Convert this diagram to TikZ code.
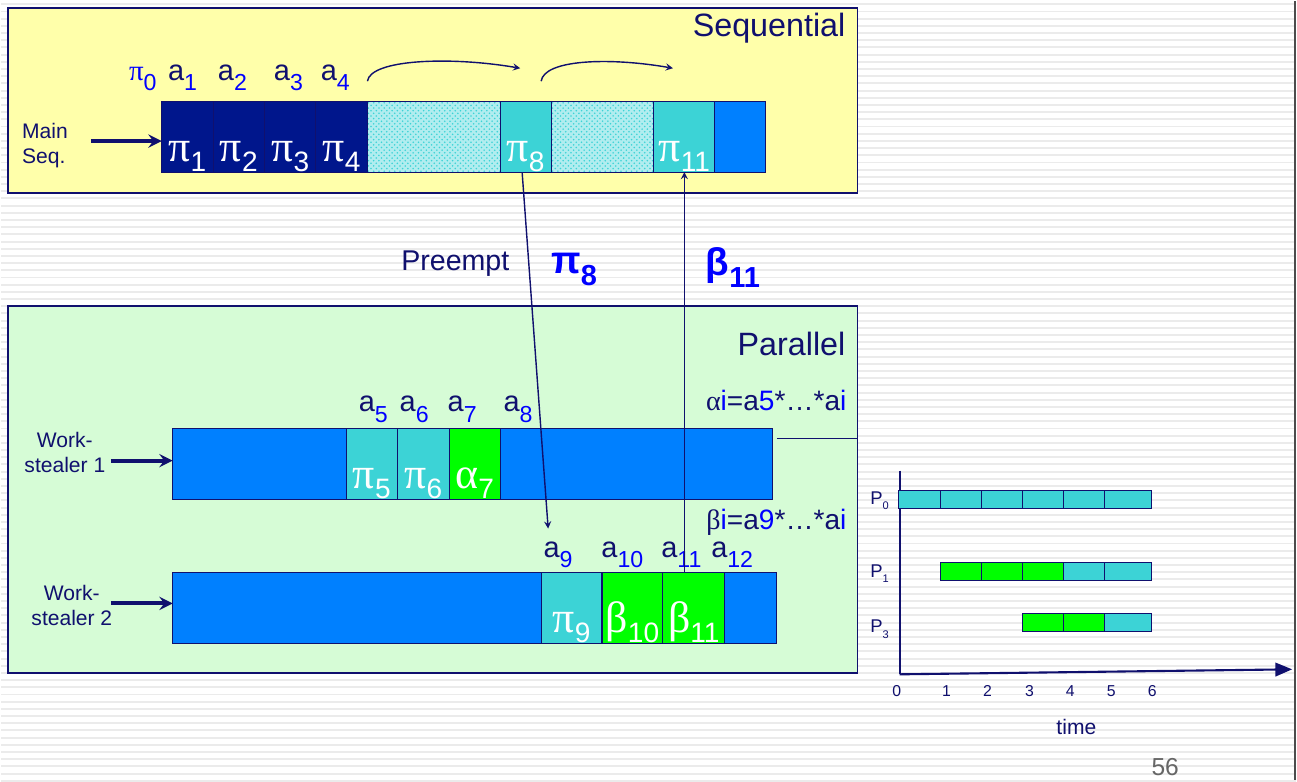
\documentclass[tikz,border=0pt]{standalone}
\usepackage{fontspec}
\setmainfont{Liberation Sans}
\newfontfamily\grk{Liberation Serif}
\usetikzlibrary{arrows,positioning,patterns}
\usepackage{xcolor}

\definecolor{ink}{RGB}{16,16,110}
\definecolor{navycell}{RGB}{0,22,140}
\definecolor{cyancell}{RGB}{60,211,214}
\definecolor{barblue}{RGB}{0,128,255}
\definecolor{greencell}{RGB}{0,255,0}
\definecolor{seqyellow}{RGB}{255,255,170}
\definecolor{pargreen}{RGB}{214,252,214}
\definecolor{labelblue}{RGB}{0,0,255}
\definecolor{stripegray}{RGB}{235,235,235}

% lowered subscript: size ratio, drop (em), text
\makeatletter
\newcommand{\lowsub}[3]{\raisebox{-#2em}{\fontsize{\fpeval{#1*\f@size}}{1}\selectfont #3}}
\makeatother
\newcommand{\gsub}[2]{{\grk #1}\lowsub{0.64}{0.23}{#2}}
\newcommand{\alab}[1]{a\lowsub{0.8}{0.36}{\color{labelblue}#1}}

\begin{document}
\begin{tikzpicture}[
    x=0.02cm, y=-0.02cm,
    stripe/.style={draw=stripegray, line width=1.1pt},
    panel/.style={rectangle, draw=ink, line width=1pt, inner sep=0pt, outer sep=0pt, anchor=north west},
    cellbox/.style={rectangle, draw=ink, line width=0.6pt, inner sep=0pt, outer sep=0pt, minimum height=1.42cm, text=white, font=\fontsize{25}{25}\selectfont, text height=1.18cm, text depth=0.2cm},
    darkcell/.style={cellbox, fill=navycell},
    cyanbox/.style={cellbox, fill=cyancell},
    greenbox/.style={cellbox, fill=greencell},
    bluebox/.style={cellbox, fill=barblue},
    hatchbox/.style={cellbox, preaction={fill=cyancell!40!white}, pattern=crosshatch dots, pattern color=cyancell},
    title/.style={font=\fontsize{18.4}{22}\selectfont, text=ink, inner sep=0pt},
    toplabel/.style={font=\fontsize{16.5}{19}\selectfont, text=ink, anchor=base west, inner sep=0pt},
    side/.style={font=\fontsize{12}{14.2}\selectfont, text=ink, inner sep=0pt},
    formula/.style={font=\fontsize{16}{19}\selectfont, text=ink, anchor=base east, inner sep=0pt},
    boldlabel/.style={font=\fontsize{22}{24}\bfseries\selectfont, text=labelblue, anchor=base, inner sep=0pt},
    feed/.style={->, >=stealth, draw=ink, line width=2.3pt},
    link/.style={->, >=stealth, draw=ink, line width=0.8pt},
    gantt/.style={draw=ink, line width=0.8pt},
    chartlabel/.style={font=\fontsize{9}{10}\selectfont, text=ink, inner sep=0pt}
]

% Background
\fill[white] (0,0) rectangle (1297,780);
\foreach \k in {0,...,108}
  \draw[stripe] (0,3+7.2*\k) -- (1297,3+7.2*\k);
\draw[gray!60!black, line width=1.5pt] (1296,0) -- (1296,780);
\useasboundingbox (0,0) rectangle (1297,780);

% Panels
\node (seqpanel) [panel, fill=seqyellow, minimum width=17.02cm, minimum height=3.7cm] at (7,7) {};
\node (parpanel) [panel, fill=pargreen, minimum width=17.02cm, minimum height=7.36cm] at (7,305) {};
\node (seqtitle) [title, anchor=base east] at (846,35) {Sequential};
\node (partitle) [title, anchor=base east] at (846,355) {Parallel};

% Main sequence
\node (p1) [darkcell, minimum width=1.03cm, anchor=north west] at (161,100) {\gsub{π}{1}};
\node (p2) [darkcell, minimum width=1.03cm, right=0pt of p1] {\gsub{π}{2}};
\node (p3) [darkcell, minimum width=1.03cm, right=0pt of p2] {\gsub{π}{3}};
\node (p4) [darkcell, minimum width=1.03cm, right=0pt of p3] {\gsub{π}{4}};
\node (h1) [hatchbox, minimum width=2.66cm, right=0pt of p4] {};
\node (p8) [cyanbox, minimum width=1.02cm, right=0pt of h1] {\gsub{π}{8}};
\node (h2) [hatchbox, minimum width=2.06cm, right=0pt of p8] {};
\node (p11) [cyanbox, minimum width=1.22cm, right=0pt of h2] {\gsub{π}{11}};
\node (pend) [bluebox, minimum width=1.02cm, right=0pt of p11] {};

\node (l0) [toplabel, text=labelblue] at (128,79) {{\grk π}\lowsub{0.8}{0.36}{0}};
\node (l1) [toplabel] at (167,79) {\alab{1}};
\node (l2) [toplabel] at (217,79) {\alab{2}};
\node (l3) [toplabel] at (273,79) {\alab{3}};
\node (l4) [toplabel] at (320,79) {\alab{4}};

\node (mainseq) [side, align=left] at (44,144) {Main\\Seq.};
\coordinate (seqin) at (90,140);
\draw [feed] (seqin) -- (seqin -| p1.west);

% Jumps along the main sequence
\coordinate (jumpa) at (367,80);
\coordinate (jumpb) at (520,67);
\coordinate (jumpc) at (541,80);
\coordinate (jumpd) at (673,67);
\draw [link] (jumpa) .. controls (370,58) and (450,55) .. (jumpb);
\draw [link] (jumpc) .. controls (544,58) and (610,56) .. (jumpd);

% Work-stealer 1
\node (w1a) [bluebox, minimum width=3.48cm, anchor=north west] at (172,428) {};
\node (p5) [cyanbox, minimum width=1.02cm, right=0pt of w1a] {\gsub{π}{5}};
\node (p6) [cyanbox, minimum width=1.04cm, right=0pt of p5] {\gsub{π}{6}};
\node (a7) [greenbox, minimum width=1.02cm, right=0pt of p6] {\gsub{α}{7}};
\node (w1e) [bluebox, minimum width=5.46cm, right=0pt of a7] {};

\node (l5) [toplabel] at (358,411) {\alab{5}};
\node (l6) [toplabel] at (399,411) {\alab{6}};
\node (l7) [toplabel] at (447,411) {\alab{7}};
\node (l8) [toplabel] at (503,411) {\alab{8}};

\node (ws1) [side, align=center] at (64,452) {Work-\\stealer 1};
\coordinate (ws1in) at (110,460);
\draw [feed] (ws1in) -- (ws1in -| w1a.west);

% Work-stealer 2
\node (w2a) [bluebox, minimum width=7.38cm, anchor=north west] at (172,572) {};
\node (p9) [cyanbox, minimum width=1.22cm, right=0pt of w2a] {\gsub{π}{9}};
\node (b10) [greenbox, minimum width=1.22cm, right=0pt of p9] {\gsub{β}{10}};
\node (b11) [greenbox, minimum width=1.24cm, right=0pt of b10] {\gsub{β}{11}};
\node (w2e) [bluebox, minimum width=1.04cm, right=0pt of b11] {};

\node (l9) [toplabel] at (543,557) {\alab{9}};
\node (l10) [toplabel] at (601,557) {\alab{10}};
\node (l11) [toplabel] at (661,557) {\alab{11}};
\node (l12) [toplabel] at (711,557) {\alab{12}};

\node (ws2) [side, align=center] at (71,605) {Work-\\stealer 2};
\coordinate (ws2in) at (110,603);
\draw [feed] (ws2in) -- (ws2in -| w2a.west);

% Formulas
\node (alphaf) [formula] at (847,410) {{\grk α}{\color{labelblue}i}=a{\color{labelblue}5}*…*a{\color{labelblue}i}};
\node (betaf) [formula] at (847,529) {{\grk β}{\color{labelblue}i}=a{\color{labelblue}9}*…*a{\color{labelblue}i}};
\coordinate (alphastart) at (777,438);
\coordinate (alphatail) at (858,438);
\draw [ink, line width=0.8pt] (alphastart) -- (alphatail);

% Preempt and return
\node (preempt) [side, font=\fontsize{16.3}{19}\selectfont, anchor=base] at (455,270) {Preempt};
\node (pi8) [boldlabel] at (574,273) {π\lowsub{0.75}{0.3}{8}};
\node (beta11) [boldlabel] at (733,275) {β\lowsub{0.75}{0.3}{11}};
\coordinate (stealpt) at (548,528);
\draw [link] ([xshift=-0.07cm]p8.south) -- (stealpt);
\draw [link] (p11.south |- b11.north) -- (p11.south);

% Schedule chart
\coordinate (chartorigin) at (900,674);
\coordinate (timetip) at (1293,669);
\draw [ink, line width=1pt] (900,470) -- (chartorigin);
\draw [->, >=triangle 45, ink, line width=1.2pt] (chartorigin) -- (timetip);
\foreach \xa/\xb/\yy/\c in {899/941/490/cyancell, 941/982/490/cyancell, 982/1023/490/cyancell,
    1023/1064/490/cyancell, 1064/1105/490/cyancell, 1105/1152/490/cyancell,
    941/982/562/greencell, 982/1023/562/greencell, 1023/1064/562/greencell,
    1064/1105/562/cyancell, 1105/1152/562/cyancell,
    1023/1064/613/greencell, 1064/1105/613/greencell, 1105/1152/613/cyancell}
  \draw [gantt, fill=\c] (\xa,\yy) rectangle (\xb,\yy+18);
\node (lp0) [chartlabel, font=\fontsize{10.5}{12}\selectfont] at (880,500) {P\lowsub{0.6}{0.3}{0}};
\node (lp1) [chartlabel, font=\fontsize{10.5}{12}\selectfont] at (880,573) {P\lowsub{0.6}{0.3}{1}};
\node (lp3) [chartlabel, font=\fontsize{10.5}{12}\selectfont] at (880,629) {P\lowsub{0.6}{0.3}{3}};
\foreach \t/\x in {0/897, 1/947, 2/988, 3/1030, 4/1071, 5/1112, 6/1153}
  \node [chartlabel] at (\x,691) {\t};
\node (timelabel) [side, font=\fontsize{12}{14}\selectfont] at (1077,727) {time};
\node (pagenum) [font=\fontsize{14}{16}\selectfont, text=gray!80!black] at (1166,767) {56};

\end{tikzpicture}
\end{document}
